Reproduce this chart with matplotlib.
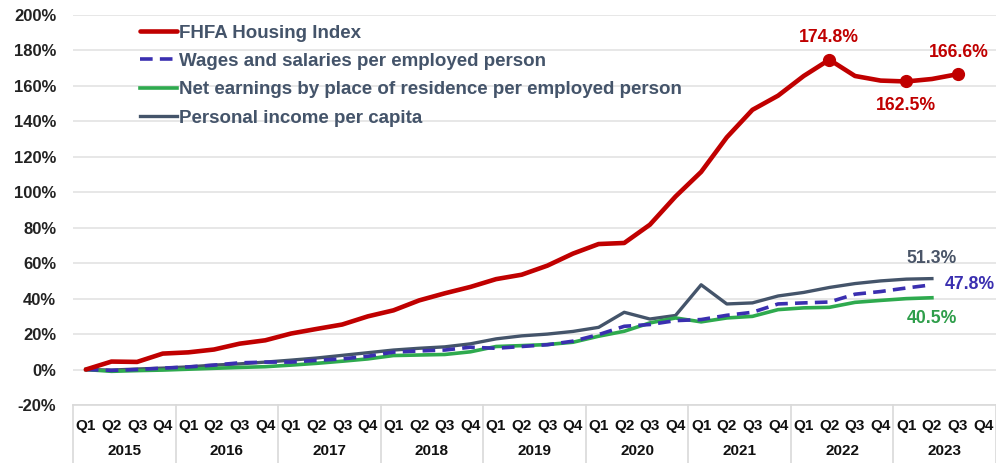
import matplotlib
matplotlib.use("Agg")
import matplotlib.pyplot as plt
import matplotlib.transforms as mtransforms

plt.rcParams['font.family'] = ['Liberation Sans', 'DejaVu Sans']

years = ["2015", "2016", "2017", "2018", "2019", "2020", "2021", "2022", "2023"]
quarters = ["Q1", "Q2", "Q3", "Q4"]

fhfa = [0, 4.5, 4.3, 9.0, 9.7, 11.3, 14.6, 16.5, 20.3, 22.9, 25.4, 30.0, 33.4, 39.0,
        43.0, 46.6, 51.0, 53.5, 58.6, 65.4, 70.8, 71.4, 81.7, 97.6, 111.5, 131.0,
        146.5, 154.5, 165.6, 174.8, 165.6, 163.0, 162.5, 163.9, 166.6]
wages = [0, -0.5, 0, 0.8, 1.5, 2.5, 3.8, 4.2, 4.2, 5.2, 6.0, 7.5, 9.8, 10.5, 11.0,
         12.6, 12.0, 13.0, 14.0, 16.0, 19.7, 24.4, 25.4, 27.6, 28.2, 30.6, 32.3,
         37.0, 37.6, 38.1, 42.5, 44.0, 46.0, 47.8]
net_earn = [0, -1.0, -0.6, -0.3, 0.2, 0.7, 1.2, 1.6, 2.5, 3.5, 4.7, 6.0, 7.9, 8.2,
            8.5, 10.0, 13.0, 13.5, 14.1, 15.4, 18.8, 21.6, 26.3, 29.1, 26.9, 29.1,
            30.0, 33.8, 34.8, 35.1, 37.9, 39.0, 40.0, 40.5]
pers_inc = [0, -0.3, 0.3, 0.8, 1.5, 2.5, 3.2, 4.2, 5.3, 6.5, 8.0, 9.5, 11.0, 12.0,
            12.8, 14.5, 17.3, 19.0, 20.0, 21.5, 23.8, 32.3, 28.5, 30.5, 47.8, 37.0,
            37.6, 41.5, 43.5, 46.3, 48.5, 50.0, 51.0, 51.3]

yticks = list(range(-20, 201, 20))

C_RED = "#C00000"
C_BLUE = "#3A2FB0"
C_GREEN = "#2EAA4E"
C_GRAY = "#44546A"

fig = plt.figure(figsize=(9.96, 4.63), dpi=100)
ax = fig.add_axes([73/996, 58/463, 923/996, 390/463])

n = len(years) * len(quarters)
x_all = list(range(n))

ax.plot(x_all[:len(fhfa)], fhfa, color=C_RED, lw=3.3, label="FHFA Housing Index",
        solid_capstyle='round', zorder=5)
ax.plot(x_all[:len(wages)], wages, color=C_BLUE, lw=2.6, dashes=(3.5, 2),
        label="Wages and salaries per employed person", zorder=4)
ax.plot(x_all[:len(net_earn)], net_earn, color=C_GREEN, lw=2.6,
        label="Net earnings by place of residence per employed person", zorder=3)
ax.plot(x_all[:len(pers_inc)], pers_inc, color=C_GRAY, lw=2.4,
        label="Personal income per capita", zorder=2)

# markers on highlighted FHFA points
for idx, off in [(29, (0, 22)), (32, (0, -24)), (34, (1, 22))]:
    ax.plot(idx, fhfa[idx], 'o', color=C_RED, ms=8.5, zorder=6)
    ax.annotate(f"{fhfa[idx]:.1f}%", (idx, fhfa[idx]), xytext=off,
                textcoords='offset pixels', ha='center', va='center',
                color=C_RED, fontsize=12.7, fontweight='bold')

last = len(pers_inc) - 1
ax.annotate(f"{pers_inc[last]:.1f}%", (last, pers_inc[last]), xytext=(0, 20),
            textcoords='offset pixels', ha='center', va='center',
            color="#4A5568", fontsize=12.7, fontweight='bold')
ax.annotate(f"{wages[last]:.1f}%", (last, wages[last]), xytext=(38, 0),
            textcoords='offset pixels', ha='center', va='center',
            color=C_BLUE, fontsize=12.7, fontweight='bold')
ax.annotate(f"{net_earn[last]:.1f}%", (last, net_earn[last]), xytext=(0, -21),
            textcoords='offset pixels', ha='center', va='center',
            color="#2E9E4A", fontsize=12.7, fontweight='bold')

ax.set_xlim(-0.5, n - 0.5)
ax.set_ylim(-20, 200)
ax.set_yticks(yticks)
ax.set_yticklabels([f"{v}%" for v in yticks], fontsize=12, fontweight='bold',
                   color="#222222")
ax.yaxis.grid(True, color="#E3E3E3", lw=1.2)
ax.set_axisbelow(True)
ax.tick_params(axis='y', length=0, pad=12)
ax.tick_params(axis='x', length=0, pad=10)
for s in ax.spines.values():
    s.set_visible(False)

ax.set_xticks(x_all)
ax.set_xticklabels(quarters * len(years), fontsize=11, fontweight='bold',
                   color="#111111")

trans = mtransforms.blended_transform_factory(ax.transData, ax.transAxes)
for k, yr in enumerate(years):
    ax.text(k * 4 + 1.5, -0.118, yr, transform=trans, ha='center', va='center',
            fontsize=11, fontweight='bold', color="#111111")
for k in range(len(years) + 1):
    ax.plot([k * 4 - 0.5, k * 4 - 0.5], [0, -0.16], transform=trans,
            color="#D9D9D9", lw=1.2, clip_on=False)
ax.plot([-0.5, n - 0.5], [0, 0], transform=trans, color="#D9D9D9", lw=1.2,
        clip_on=False)

leg = ax.legend(loc='upper left', bbox_to_anchor=(0.062, 1.0), frameon=False,
                fontsize=13.5, handlelength=2.0, handletextpad=0.1,
                labelspacing=0.6, borderpad=0)
for t in leg.get_texts():
    t.set_color(C_GRAY)
    t.set_fontweight('bold')

fig.savefig("out.png", dpi=100, facecolor='white')
